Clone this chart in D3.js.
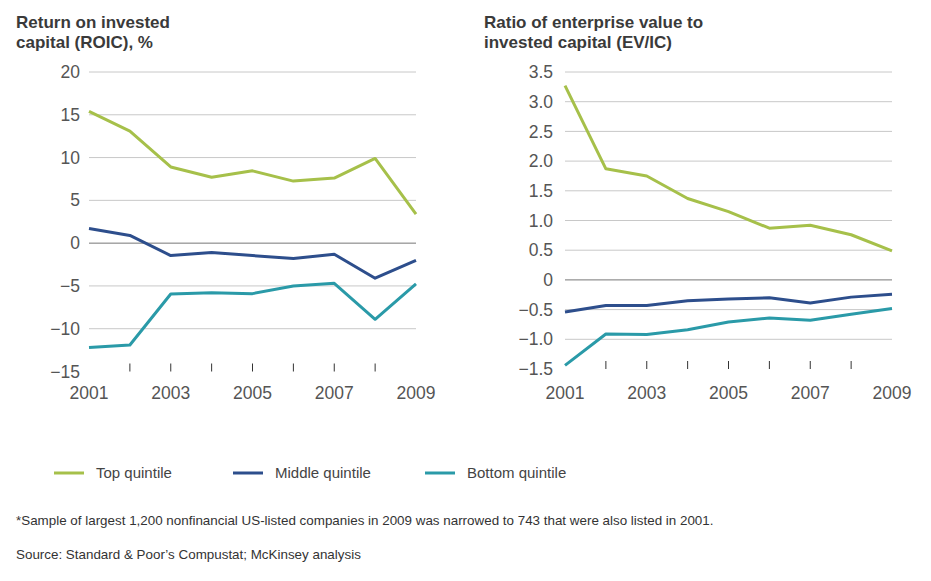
<!DOCTYPE html>
<html><head><meta charset="utf-8">
<script src="https://cdn.jsdelivr.net/npm/d3@7"></script>
<style>
body{margin:0;background:#fff;}
svg{display:block;font-family:"Liberation Sans",Arial,sans-serif;}
</style></head>
<body><svg id="c" width="931" height="581"></svg>
<script>
const years = [2001,2002,2003,2004,2005,2006,2007,2008,2009];
const yearLabels = [2001,2003,2005,2007,2009];
const seriesNames = ["Top quintile","Middle quintile","Bottom quintile"];
const seriesColors = ["#a6c04a","#2d4e8c","#2a9aa8"];
const roicTop    = [15.4,13.1,8.9,7.7,8.45,7.25,7.6,9.9,3.4];
const roicMiddle = [1.7,0.9,-1.45,-1.1,-1.45,-1.8,-1.3,-4.1,-2.0];
const roicBottom = [-12.2,-11.9,-5.95,-5.8,-5.9,-5.0,-4.7,-8.9,-4.75];
const evTop    = [3.27,1.87,1.75,1.37,1.15,0.87,0.92,0.76,0.49];
const evMiddle = [-0.54,-0.43,-0.43,-0.35,-0.32,-0.30,-0.39,-0.29,-0.24];
const evBottom = [-1.44,-0.91,-0.92,-0.84,-0.71,-0.64,-0.68,-0.58,-0.48];
const roicTicks = [20,15,10,5,0,-5,-10,-15];
const evTicks = [3.5,3.0,2.5,2.0,1.5,1.0,0.5,0,-0.5,-1.0,-1.5];
const roicTitle = ["Return on invested","capital (ROIC), %"];
const evTitle = ["Ratio of enterprise value to","invested capital (EV/IC)"];
const footnote = "*Sample of largest 1,200 nonfinancial US-listed companies in 2009 was narrowed to 743 that were also listed in 2001.";
const source = "Source: Standard & Poor\u2019s Compustat; McKinsey analysis";

const svg = d3.select("#c");
const fmtMinus = s => String(s).replace("-", "\u2212");

function panel(opt){
  const g = svg.append("g");
  const x = d3.scaleLinear().domain([2001,2009]).range([opt.x0, opt.x1]);
  const y = d3.scaleLinear().domain([opt.ticks[opt.ticks.length-1], opt.ticks[0]]).range([opt.yb, opt.yt]);
  g.append("text").attr("x", opt.tx).attr("y", 28).attr("font-size", 17).attr("font-weight", "bold").attr("fill", "#3a3a3a")
    .selectAll("tspan").data(opt.title).join("tspan").attr("x", opt.tx).attr("dy", (d,i)=> i? 20:0).text(d=>d);
  opt.ticks.forEach((t,i)=>{
    if (i < opt.ticks.length-1){
      g.append("line").attr("x1", opt.x0).attr("x2", opt.x1).attr("y1", y(t)).attr("y2", y(t))
        .attr("stroke", t===0 ? "#777" : "#c8c8c8").attr("stroke-width", 1);
    }
    g.append("text").attr("x", opt.lx).attr("y", y(t)).attr("dy", "0.35em").attr("text-anchor","end")
      .attr("font-size", 17.5).attr("fill", "#555").text(opt.fmt(t));
  });
  years.slice(1,-1).forEach(yr=>{
    g.append("line").attr("x1", x(yr)).attr("x2", x(yr)).attr("y1", opt.yb-8).attr("y2", opt.yb)
      .attr("stroke", "#333").attr("stroke-width", 1);
  });
  yearLabels.forEach(yr=>{
    g.append("text").attr("x", x(yr)).attr("y", 399).attr("text-anchor","middle")
      .attr("font-size", 17.5).attr("fill", "#555").text(yr);
  });
  const line = d3.line().x((d,i)=>x(years[i])).y(d=>y(d));
  opt.data.forEach((s,i)=>{
    g.append("path").attr("d", line(s)).attr("fill","none").attr("stroke", seriesColors[i])
      .attr("stroke-width", 3).attr("stroke-linejoin","round");
  });
}

panel({x0:89, x1:416, yt:72, yb:371.5, lx:80, tx:16, ticks:roicTicks, title:roicTitle,
  fmt: t=>fmtMinus(t), data:[roicTop, roicMiddle, roicBottom]});
panel({x0:565, x1:892, yt:72, yb:369, lx:553, tx:484, ticks:evTicks, title:evTitle,
  fmt: t=> t===0 ? "0" : fmtMinus(d3.format(".1f")(t)), data:[evTop, evMiddle, evBottom]});

const legX = [54, 233, 425];
seriesNames.forEach((n,i)=>{
  svg.append("line").attr("x1", legX[i]).attr("x2", legX[i]+30).attr("y1", 473).attr("y2", 473)
    .attr("stroke", seriesColors[i]).attr("stroke-width", 3);
  svg.append("text").attr("x", legX[i]+42).attr("y", 473).attr("dy","0.35em").attr("font-size", 15)
    .attr("fill", "#444").text(n);
});
svg.append("text").attr("x", 16).attr("y", 525).attr("font-size", 13.4).attr("fill", "#333").text(footnote);
svg.append("text").attr("x", 16).attr("y", 559).attr("font-size", 13.4).attr("fill", "#333").text(source);
</script></body></html>
